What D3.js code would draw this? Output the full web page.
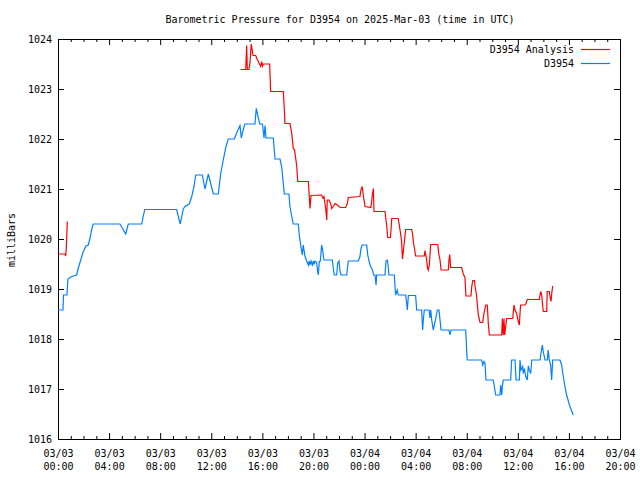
<!DOCTYPE html>
<html><head><meta charset="utf-8">
<script src="https://cdn.jsdelivr.net/npm/d3@7"></script>
<style>
body{margin:0;background:#fff}
svg{display:block}
text{font-family:"DejaVu Sans Mono","Liberation Mono",monospace;font-size:10px;fill:#000}
</style>
</head><body>
<svg id="c" width="640" height="480"></svg>
<script>
const title = "Barometric Pressure for D3954 on 2025-Mar-03 (time in UTC)";
const yTitle = "milliBars";
const seriesNames = ["D3954 Analysis", "D3954"];
const seriesColors = ["#ff0000", "#0080ff"];
const xTickHours = [0,4,8,12,16,20,24,28,32,36,40,44];
const xTickDates = ["03/03","03/03","03/03","03/03","03/03","03/03","03/04","03/04","03/04","03/04","03/04","03/04"];
const xTickTimes = ["00:00","04:00","08:00","12:00","16:00","20:00","00:00","04:00","08:00","12:00","16:00","20:00"];
const yTickValues = [1016,1017,1018,1019,1020,1021,1022,1023,1024];

// [hours since 03/03 00:00 UTC, millibars]; null = missing data
const analysis = [[0.00,1019.70],[0.55,1019.70],[0.60,1019.66],[0.65,1019.82],[0.73,1020.35],[7.00,null],
[14.30,1023.39],[14.70,1023.39],[14.77,1023.87],[14.82,1023.39],[14.95,1023.39],[15.03,1023.52],[15.13,1023.90],[15.27,1023.67],[15.48,1023.67],[15.60,1023.59],[15.87,1023.45],[15.95,1023.55],[16.01,1023.46],[16.07,1023.50],[16.57,1023.50],[16.60,1023.29],[16.65,1022.95],[17.64,1022.95],[17.72,1022.61],[17.77,1022.31],[18.16,1022.31],[18.30,1022.11],[18.42,1021.81],[18.52,1021.78],[18.69,1021.46],[18.77,1021.15],[19.60,1021.15],[19.73,1020.61],[19.81,1020.87],[20.64,1020.88],[20.74,1020.82],[20.82,1020.85],[20.96,1020.61],[21.04,1020.38],[21.08,1020.78],[21.22,1020.78],[21.35,1020.71],[21.43,1020.61],[21.55,1020.65],[21.69,1020.71],[21.82,1020.69],[22.00,1020.65],[22.13,1020.63],[22.52,1020.63],[22.65,1020.71],[22.73,1020.83],[23.64,1020.85],[23.72,1020.98],[23.82,1021.05],[23.90,1020.88],[24.04,1020.65],[24.50,1020.63],[24.61,1020.88],[24.69,1021.01],[24.74,1020.55],[25.60,1020.55],[25.73,1020.28],[25.81,1020.03],[26.03,1020.03],[26.13,1020.41],[26.64,1020.41],[26.78,1020.18],[26.89,1019.98],[26.97,1019.60],[27.09,1019.88],[27.22,1020.19],[27.69,1020.19],[27.77,1020.08],[27.83,1019.92],[27.90,1019.83],[28.00,1019.66],[28.68,1019.66],[28.73,1019.77],[28.86,1019.59],[28.93,1019.42],[28.99,1019.38],[29.07,1019.48],[29.18,1019.89],[29.73,1019.89],[29.81,1019.70],[29.91,1019.58],[29.99,1019.38],[30.56,1019.38],[30.61,1019.58],[30.67,1019.69],[30.74,1019.43],[31.60,1019.43],[31.73,1019.30],[31.86,1019.23],[31.94,1018.86],[32.33,1018.86],[32.39,1019.04],[32.47,1019.17],[32.61,1019.17],[32.65,1019.05],[32.77,1018.88],[32.83,1018.68],[32.91,1018.48],[33.04,1018.33],[33.25,1018.33],[33.35,1018.51],[33.49,1018.68],[33.61,1018.68],[33.69,1018.31],[33.77,1018.08],[34.74,1018.08],[34.79,1018.41],[34.86,1018.08],[34.92,1018.41],[34.97,1018.08],[35.05,1018.25],[35.13,1018.41],[35.60,1018.41],[35.70,1018.68],[35.78,1018.58],[35.91,1018.51],[36.04,1018.35],[36.12,1018.28],[36.17,1018.51],[36.22,1018.68],[36.56,1018.68],[36.64,1018.71],[36.74,1018.79],[37.68,1018.79],[37.79,1018.95],[37.87,1018.88],[37.94,1018.68],[37.99,1018.55],[38.26,1018.55],[38.30,1018.95],[38.46,1018.95],[38.52,1018.85],[38.60,1018.75],[38.66,1018.92],[38.73,1019.06]];

const observed = [[0.00,1018.58],[0.39,1018.58],[0.43,1018.88],[0.70,1018.88],[0.78,1019.20],[1.07,1019.25],[1.46,1019.28],[1.59,1019.42],[1.78,1019.58],[1.98,1019.75],[2.19,1019.86],[2.37,1019.88],[2.51,1020.02],[2.69,1020.25],[2.76,1020.30],[4.85,1020.30],[5.30,1020.10],[5.50,1020.30],[6.55,1020.30],[6.79,1020.59],[9.29,1020.59],[9.57,1020.30],[9.81,1020.60],[9.94,1020.65],[10.28,1020.70],[10.47,1020.85],[10.65,1021.05],[10.78,1021.28],[11.30,1021.28],[11.51,1021.00],[11.77,1021.30],[12.16,1020.90],[12.55,1020.90],[12.74,1021.31],[12.94,1021.58],[13.15,1021.85],[13.33,1022.00],[13.80,1022.00],[14.04,1022.15],[14.25,1022.27],[14.35,1022.02],[14.46,1022.14],[14.62,1022.30],[15.42,1022.30],[15.52,1022.61],[15.66,1022.45],[15.79,1022.30],[16.01,1022.30],[16.13,1022.02],[16.21,1022.27],[16.29,1022.02],[16.86,1022.02],[16.91,1021.84],[16.99,1021.60],[17.38,1021.60],[17.51,1021.45],[17.64,1021.11],[17.72,1020.90],[18.08,1020.90],[18.16,1020.65],[18.30,1020.45],[18.42,1020.30],[18.81,1020.30],
[18.89,1020.08],[19.00,1019.88],[19.08,1019.75],[19.13,1019.68],[19.20,1019.88],[19.26,1019.78],[19.34,1019.65],[19.47,1019.56],[19.60,1019.48],[19.65,1019.56],[19.73,1019.48],[19.81,1019.56],[19.91,1019.48],[19.99,1019.56],[20.04,1019.49],[20.12,1019.56],[20.25,1019.53],[20.33,1019.35],[20.38,1019.28],[20.46,1019.55],[20.54,1019.56],[20.64,1019.88],[20.72,1019.78],[20.82,1019.58],[21.48,1019.58],[21.55,1019.42],[21.63,1019.28],[21.82,1019.28],[21.90,1019.52],[22.00,1019.56],[22.08,1019.35],[22.16,1019.28],[22.60,1019.28],[22.73,1019.56],[23.51,1019.56],[23.64,1019.65],[23.72,1019.81],[23.82,1019.88],[24.17,1019.88],[24.25,1019.68],[24.35,1019.56],[24.43,1019.48],[24.61,1019.38],[24.72,1019.28],[24.82,1019.28],[24.90,1019.08],[24.95,1019.28],[25.60,1019.28],[25.68,1019.56],[25.78,1019.58],[25.84,1019.48],[25.91,1019.28],[26.33,1019.28],[26.38,1019.08],[26.43,1018.88],[26.56,1018.98],[26.64,1018.88],[27.22,1018.88],[27.30,1018.71],[27.35,1018.58],[27.43,1018.87],[28.00,1018.87],[28.08,1018.58],[28.47,1018.58],[28.55,1018.18],[28.60,1018.38],[28.68,1018.58],[29.05,1018.58],[29.12,1018.42],[29.18,1018.58],[29.26,1018.38],[29.38,1018.18],[29.52,1018.34],[29.70,1018.58],[29.83,1018.58],[29.99,1018.18],[30.61,1018.18],[30.69,1018.08],[30.77,1018.18],[31.92,1018.18],[32.00,1017.75],[32.04,1017.58],[33.17,1017.58],[33.25,1017.48],[33.35,1017.55],[33.43,1017.51],[33.51,1017.18],[34.08,1017.18],[34.16,1017.05],[34.27,1016.88],[34.60,1016.88],[34.66,1017.08],[34.74,1016.88],[34.79,1017.05],[34.86,1017.18],[35.44,1017.18],[35.52,1017.58],[35.78,1017.58],[35.86,1017.18],[36.12,1017.18],[36.17,1017.58],[36.25,1017.38],[36.38,1017.45],[36.43,1017.31],[36.51,1017.41],[36.62,1017.25],[36.74,1017.18],[36.82,1017.46],[36.90,1017.38],[37.01,1017.31],[37.09,1017.58],[37.74,1017.58],[37.81,1017.71],[37.92,1017.88],[37.99,1017.75],[38.13,1017.58],[38.31,1017.58],[38.38,1017.78],[38.46,1017.58],[38.57,1017.48],[38.65,1017.18],[38.73,1017.58],[39.30,1017.58],[39.43,1017.48],[39.56,1017.25],[39.69,1017.05],[39.82,1016.88],[40.08,1016.65],[40.34,1016.48]];

const svg = d3.select("#c");
const L = 58, R = 620, T = 39, B = 439;
const x = d3.scaleLinear().domain([0, 44]).range([L, R]);
const y = d3.scaleLinear().domain([1016, 1024]).range([B, T]);
const minorHours = d3.range(0, 45).filter(h => h % 4 !== 0);

// title
svg.append("text").attr("x", 340).attr("y", 23).attr("text-anchor", "middle").text(title);
// y title
svg.append("text").attr("transform", "translate(15,240) rotate(-90)").attr("text-anchor", "middle").text(yTitle);

function strip(g){ g.select(".domain").remove(); g.selectAll("line").attr("stroke","#000"); }

// bottom axis (major with labels)
const gb = svg.append("g").attr("transform", `translate(0,${B})`)
  .call(d3.axisBottom(x).tickValues(xTickHours).tickSize(-6).tickPadding(0).tickFormat(() => ""));
strip(gb);
gb.selectAll(".tick text").each(function(d, i) {
  const t = d3.select(this).attr("y", 0).attr("dy", null);
  t.append("tspan").attr("x", 0).attr("y", 18).text(xTickDates[i]);
  t.append("tspan").attr("x", 0).attr("y", 31).text(xTickTimes[i]);
});
const gbm = svg.append("g").attr("transform", `translate(0,${B})`)
  .call(d3.axisBottom(x).tickValues(minorHours).tickSize(-3).tickFormat(() => ""));
strip(gbm);
// top axis (mirror)
const gt = svg.append("g").attr("transform", `translate(0,${T})`)
  .call(d3.axisTop(x).tickValues(xTickHours).tickSize(-6).tickFormat(() => ""));
strip(gt);
const gtm = svg.append("g").attr("transform", `translate(0,${T})`)
  .call(d3.axisTop(x).tickValues(minorHours).tickSize(-3).tickFormat(() => ""));
strip(gtm);
// left axis
const gl = svg.append("g").attr("transform", `translate(${L},0)`)
  .call(d3.axisLeft(y).tickValues(yTickValues).tickSize(-6).tickPadding(6).tickFormat(d3.format("d")));
strip(gl);
gl.selectAll(".tick text").attr("font-family", null).attr("font-size", null).attr("dy", "0.35em");
gl.attr("font-family", null).attr("font-size", null);
gb.attr("font-family", null).attr("font-size", null);
// right axis (mirror)
const gr = svg.append("g").attr("transform", `translate(${R},0)`)
  .call(d3.axisRight(y).tickValues(yTickValues).tickSize(-6).tickFormat(() => ""));
strip(gr);

// border
svg.append("rect").attr("x", L + 0.5).attr("y", T + 0.5).attr("width", R - L).attr("height", B - T)
  .attr("fill", "none").attr("stroke", "#000").attr("stroke-width", 1);

// lines
const line = d3.line().defined(d => d[1] != null).x(d => x(d[0])).y(d => y(d[1]));
svg.append("path").datum(analysis).attr("d", line).attr("fill", "none")
  .attr("stroke", seriesColors[0]).attr("stroke-width", 1.2);
svg.append("path").datum(observed).attr("d", line).attr("fill", "none")
  .attr("stroke", seriesColors[1]).attr("stroke-width", 1.2);

// legend
seriesNames.forEach((name, i) => {
  const ly = 49 + i * 14;
  svg.append("text").attr("x", 574).attr("y", ly).attr("dy", "0.35em").attr("text-anchor", "end").text(name);
  svg.append("line").attr("x1", 581).attr("x2", 610).attr("y1", ly + 0.5).attr("y2", ly + 0.5)
    .attr("stroke", seriesColors[i]).attr("stroke-width", 1.2);
});
</script>
</body></html>
